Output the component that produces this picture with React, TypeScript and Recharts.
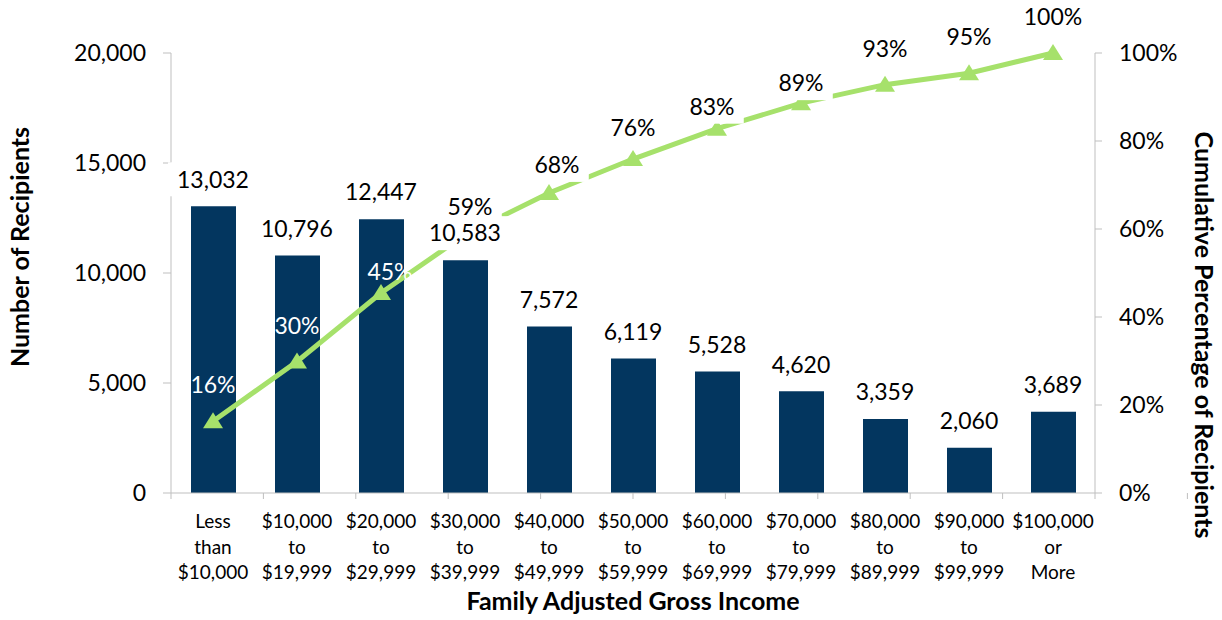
import React from "react";
import { ComposedChart, Bar, Line, XAxis, YAxis, LabelList } from "recharts";

// ---------- data ----------
const incomeBands = [
  "Less than $10,000",
  "$10,000 to $19,999",
  "$20,000 to $29,999",
  "$30,000 to $39,999",
  "$40,000 to $49,999",
  "$50,000 to $59,999",
  "$60,000 to $69,999",
  "$70,000 to $79,999",
  "$80,000 to $89,999",
  "$90,000 to $99,999",
  "$100,000 or More",
];
const recipients = [13032, 10796, 12447, 10583, 7572, 6119, 5528, 4620, 3359, 2060, 3689];
const cumulativePct = [16.3, 29.9, 45.45, 58.7, 68.2, 75.9, 82.8, 88.6, 92.8, 95.4, 100];
const recipientTicks = [0, 5000, 10000, 15000, 20000];
const pctTicks = [0, 20, 40, 60, 80, 100];
const bandEdges = [0, 1, 2, 3, 4, 5, 6, 7, 8, 9, 10, 11];

// ---------- label styling (per point) ----------
const pctLabelInsideBar = [true, true, true, false, false, false, false, false, false, false, false];
const pctLabelDx = [0, 0, 9, 5, 8, 0, -5, 0, 0, 0, 0];
const pctLabelLift = [37, 36, 21, 28, 28, 31, 22, 20, 36, 36.5, 36.5];

const data = incomeBands.map((band, i) => ({
  band,
  recipients: recipients[i],
  pct: cumulativePct[i],
}));

const FONT = "Lato, 'Open Sans', sans-serif";
const NAVY = "#03365f";
const GREEN = "#a6e16b";
const AXIS = "#bfbfbf";
const LABEL_FS = 23;
const TITLE_FS = 25;

const fmt = (v: number) => v.toLocaleString("en-US");

function textWidth(t: string, fs: number) {
  let w = 0;
  for (const ch of t) {
    if (ch === ",") w += 0.23;
    else if (ch === "%") w += 0.82;
    else w += 0.58;
  }
  return w * fs;
}

function LabelText({ cx, cy, text, color, boxed }: any) {
  const w = textWidth(text, LABEL_FS) + 18;
  return (
    <g>
      {boxed && <rect x={cx - w / 2} y={cy - 17} width={w} height={34} fill="#ffffff" />}
      <text
        x={cx}
        y={cy + 0.36 * LABEL_FS}
        textAnchor="middle"
        fontFamily={FONT}
        fontSize={LABEL_FS}
        fill={color}
      >
        {text}
      </text>
    </g>
  );
}

const pctLabel = (props: any) => {
  const { x, y, index, value } = props;
  const inside = pctLabelInsideBar[index];
  return (
    <LabelText
      cx={x + pctLabelDx[index]}
      cy={y - pctLabelLift[index]}
      text={`${Math.round(value)}%`}
      color={inside ? "#ffffff" : "#000000"}
      boxed={!inside}
    />
  );
};

const barLabel = (props: any) => {
  const { x, y, value } = props;
  return <LabelText cx={x} cy={y - 27} text={fmt(value)} color="#000000" boxed />;
};

const triangleDot = (props: any) => {
  const { cx, cy, index } = props;
  if (cx == null || cy == null) return <g key={`d${index}`} />;
  return (
    <path
      key={`d${index}`}
      d={`M${cx},${cy - 9} L${cx + 10},${cy + 7} L${cx - 10},${cy + 7} Z`}
      fill={GREEN}
    />
  );
};

const LeftTick = (props: any) => {
  const { x, y, payload } = props;
  return (
    <text x={x} y={y + 0.36 * 23} textAnchor="end" fontFamily={FONT} fontSize={23} fill="#000">
      {fmt(payload.value)}
    </text>
  );
};

const RightTick = (props: any) => {
  const { x, y, payload } = props;
  return (
    <text x={x} y={y + 0.36 * 23} textAnchor="start" fontFamily={FONT} fontSize={23} fill="#000">
      {`${payload.value}%`}
    </text>
  );
};

const BandTick = (props: any) => {
  const { x, y, payload } = props;
  const words = String(payload.value).split(" ");
  return (
    <g>
      {words.map((w: string, i: number) => (
        <text
          key={i}
          x={x}
          y={y + 34 + i * 25.5}
          textAnchor="middle"
          fontFamily={FONT}
          fontSize={19}
          fill="#000"
        >
          {w}
        </text>
      ))}
    </g>
  );
};

const EmptyTick = () => <g />;

export default function App() {
  return (
    <div style={{ position: "fixed", left: 0, top: 0, width: 1222, height: 620, background: "#fff" }}>
      <ComposedChart
        width={1222}
        height={620}
        data={data}
        margin={{ top: 53, right: 0, bottom: 0, left: 0 }}
      >
        <XAxis
          xAxisId="band"
          dataKey="band"
          height={126}
          axisLine={false}
          tickLine={false}
          tickSize={0}
          tickMargin={0}
          interval={0}
          tick={BandTick}
          label={{
            content: (p: any) => {
              const vb = p.viewBox;
              return (
                <text
                  x={vb.x + vb.width / 2}
                  y={vb.y + 116}
                  textAnchor="middle"
                  fontFamily={FONT}
                  fontWeight="bold"
                  fontSize={TITLE_FS}
                  fill="#000"
                >
                  Family Adjusted Gross Income
                </text>
              );
            },
          }}
        />
        <XAxis
          xAxisId="aEdge"
          type="number"
          domain={[0, 11]}
          ticks={bandEdges}
          interval={0}
          height={1}
          stroke={AXIS}
          tickSize={6}
          tick={EmptyTick}
          allowDataOverflow
        />
        <YAxis
          yAxisId="left"
          width={171}
          domain={[0, 20000]}
          ticks={recipientTicks}
          interval={0}
          stroke={AXIS}
          tickSize={8}
          tickMargin={17}
          tick={LeftTick}
          label={{
            content: (p: any) => {
              const vb = p.viewBox;
              const cx = vb.x + 29;
              const cy = vb.y + 194;
              return (
                <text
                  x={cx}
                  y={cy}
                  transform={`rotate(-90 ${cx} ${cy})`}
                  textAnchor="middle"
                  fontFamily={FONT}
                  fontWeight="bold"
                  fontSize={TITLE_FS}
                  fill="#000"
                >
                  Number of Recipients
                </text>
              );
            },
          }}
        />
        <YAxis
          yAxisId="right"
          orientation="right"
          width={127}
          domain={[0, 100]}
          ticks={pctTicks}
          interval={0}
          stroke={AXIS}
          tickSize={7}
          tickMargin={17}
          tick={RightTick}
          label={{
            content: (p: any) => {
              const vb = p.viewBox;
              const cx = vb.x + 100;
              const cy = vb.y + 282;
              return (
                <text
                  x={cx}
                  y={cy}
                  transform={`rotate(90 ${cx} ${cy})`}
                  textAnchor="middle"
                  fontFamily={FONT}
                  fontWeight="bold"
                  fontSize={TITLE_FS}
                  fill="#000"
                >
                  Cumulative Percentage of Recipients
                </text>
              );
            },
          }}
        />
        <Bar
          xAxisId="band"
          yAxisId="left"
          dataKey="recipients"
          fill={NAVY}
          barSize={45}
          isAnimationActive={false}
        />
        <Line
          xAxisId="band"
          yAxisId="right"
          dataKey="pct"
          stroke={GREEN}
          strokeWidth={5}
          dot={triangleDot}
          activeDot={false}
          isAnimationActive={false}
        >
          <LabelList dataKey="pct" content={pctLabel} />
        </Line>
        <Line
          xAxisId="band"
          yAxisId="left"
          dataKey="recipients"
          stroke="none"
          dot={false}
          activeDot={false}
          isAnimationActive={false}
        >
          <LabelList dataKey="recipients" content={barLabel} />
        </Line>
      </ComposedChart>
    </div>
  );
}
